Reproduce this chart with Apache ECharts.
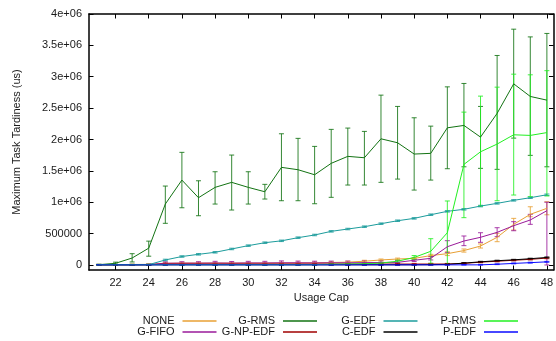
<!DOCTYPE html>
<html>
<head>
<meta charset="utf-8">
<script src="https://cdn.jsdelivr.net/npm/echarts@6/dist/echarts.min.js"></script>
<style>
  html, body { margin: 0; padding: 0; background: #fff; }
  #chart { width: 556px; height: 341px; }
</style>
</head>
<body>
<div id="chart"></div>
<script>
// Usage cap values on the x axis
const usageCap = [21, 22, 23, 24, 25, 26, 27, 28, 29, 30, 31, 32, 33, 34, 35, 36, 37, 38, 39, 40, 41, 42, 43, 44, 45, 46, 47, 48];
const xTicks = [22, 24, 26, 28, 30, 32, 34, 36, 38, 40, 42, 44, 46, 48];
const yTicks = [0, 500000, 1000000, 1500000, 2000000, 2500000, 3000000, 3500000, 4000000];

// Maximum task tardiness (us): mean, lower and upper error bound per scheduler
const noneMean = [5000, 5000, 8000, 10000, 25000, 30000, 30000, 30000, 30000, 30000, 30000, 32000, 32000, 35000, 40000, 45000, 60000, 80000, 95000, 105000, 150000, 180000, 230000, 302000, 441000, 648000, 807000, 903000];
const noneLo   = [0, 0, 0, 0, 12000, 18000, 18000, 18000, 18000, 18000, 18000, 20000, 20000, 22000, 26000, 30000, 45000, 65000, 80000, 90000, 130000, 150000, 205000, 270000, 371000, 557000, 769000, 800000];
const noneHi   = [10000, 10000, 15000, 20000, 38000, 42000, 42000, 42000, 42000, 42000, 42000, 45000, 45000, 48000, 54000, 60000, 75000, 95000, 110000, 120000, 170000, 210000, 255000, 335000, 505000, 743000, 928000, 1008000];

const gfifoMean = [5000, 5000, 5000, 8000, 28000, 30000, 30000, 32000, 30000, 33000, 32000, 35000, 35000, 33000, 35000, 35000, 38000, 40000, 42000, 75000, 106000, 291000, 382000, 441000, 520000, 626000, 717000, 865000];
const gfifoLo   = [0, 0, 0, 0, 8000, 8000, 8000, 8000, 8000, 8000, 8000, 8000, 8000, 8000, 8000, 8000, 10000, 12000, 15000, 55000, 80000, 196000, 308000, 361000, 451000, 546000, 648000, 0];
const gfifoHi   = [10000, 10000, 10000, 15000, 50000, 52000, 52000, 58000, 55000, 58000, 58000, 65000, 62000, 60000, 62000, 62000, 65000, 68000, 70000, 95000, 135000, 387000, 462000, 514000, 594000, 690000, 807000, 1000000];

const grmsMean = [5000, 27000, 111000, 268000, 971000, 1353000, 1072000, 1237000, 1317000, 1237000, 1167000, 1556000, 1518000, 1438000, 1620000, 1731000, 1709000, 2011000, 1948000, 1768000, 1779000, 2186000, 2224000, 2038000, 2416000, 2887000, 2686000, 2627000];
const grmsLo   = [0, 10000, 48000, 140000, 664000, 912000, 785000, 971000, 876000, 971000, 1051000, 1024000, 1024000, 976000, 1078000, 1274000, 1274000, 1317000, 1369000, 1194000, 1353000, 1534000, 1565000, 1540000, 1524000, 2022000, 1747000, 1565000];
const grmsHi   = [10000, 45000, 180000, 380000, 1258000, 1795000, 1342000, 1486000, 1752000, 1486000, 1285000, 2091000, 2018000, 1890000, 2161000, 2182000, 2129000, 2707000, 2527000, 2346000, 2213000, 2839000, 2893000, 2527000, 3339000, 3758000, 3635000, 3690000];

const gnpedfMean = [3000, 3000, 3000, 3000, 15000, 15000, 15000, 15000, 15000, 15000, 15000, 15000, 15000, 15000, 15000, 15000, 15000, 15000, 15000, 15000, 15000, 15000, 25000, 45000, 60000, 75000, 90000, 110000];
const gnpedfLo   = [0, 0, 0, 0, 5000, 5000, 5000, 5000, 5000, 5000, 5000, 5000, 5000, 5000, 5000, 5000, 5000, 5000, 5000, 5000, 5000, 5000, 15000, 35000, 50000, 65000, 80000, 100000];
const gnpedfHi   = [6000, 6000, 6000, 6000, 25000, 25000, 25000, 25000, 25000, 25000, 25000, 25000, 25000, 25000, 25000, 25000, 25000, 25000, 25000, 25000, 25000, 25000, 35000, 55000, 70000, 85000, 100000, 120000];

const gedfMean = [3000, 3000, 3000, 5000, 80000, 135000, 170000, 202000, 255000, 308000, 355000, 385000, 435000, 478000, 536000, 573000, 610000, 658000, 705000, 743000, 801000, 855000, 887000, 939000, 982000, 1030000, 1072000, 1119000];
const gedfLo   = [0, 0, 0, 0, 68000, 123000, 158000, 190000, 243000, 296000, 343000, 373000, 423000, 466000, 524000, 561000, 598000, 646000, 693000, 731000, 789000, 843000, 875000, 927000, 970000, 1018000, 1060000, 1107000];
const gedfHi   = [8000, 8000, 8000, 12000, 92000, 147000, 182000, 214000, 267000, 320000, 367000, 397000, 447000, 490000, 548000, 585000, 622000, 670000, 717000, 755000, 813000, 867000, 899000, 951000, 994000, 1042000, 1084000, 1131000];

const cedfMean = [3000, 3000, 3000, 3000, 3000, 3000, 3000, 3000, 3000, 3000, 3000, 3000, 3000, 3000, 3000, 3000, 3000, 3000, 3000, 3000, 5000, 10000, 30000, 50000, 68000, 82000, 100000, 120000];
const cedfLo   = [0, 0, 0, 0, 0, 0, 0, 0, 0, 0, 0, 0, 0, 0, 0, 0, 0, 0, 0, 0, 0, 3000, 22000, 42000, 60000, 74000, 92000, 112000];
const cedfHi   = [6000, 6000, 6000, 6000, 6000, 6000, 6000, 6000, 6000, 6000, 6000, 6000, 6000, 6000, 6000, 6000, 6000, 6000, 6000, 6000, 10000, 17000, 38000, 58000, 76000, 90000, 108000, 128000];

const prmsMean = [5000, 5000, 5000, 5000, 5000, 5000, 5000, 5000, 5000, 5000, 5000, 5000, 5000, 5000, 12000, 15000, 20000, 30000, 60000, 120000, 218000, 514000, 1603000, 1804000, 1927000, 2075000, 2065000, 2110000];
const prmsLo   = [0, 0, 0, 0, 0, 0, 0, 0, 0, 0, 0, 0, 0, 0, 5000, 7000, 10000, 18000, 40000, 90000, 27000, 10000, 754000, 939000, 1024000, 1115000, 1088000, 1100000];
const prmsHi   = [10000, 10000, 10000, 10000, 10000, 10000, 10000, 10000, 10000, 10000, 10000, 10000, 10000, 10000, 20000, 24000, 30000, 42000, 80000, 150000, 419000, 1020000, 2436000, 2691000, 2834000, 3041000, 3031000, 3097000];

const pedfMean = [2000, 2000, 2000, 2000, 2000, 2000, 2000, 2000, 2000, 2000, 2000, 2000, 2000, 2000, 2000, 2000, 2000, 2000, 2000, 2000, 2000, 2000, 2000, 2000, 12000, 25000, 37000, 50000];
const pedfLo   = [0, 0, 0, 0, 0, 0, 0, 0, 0, 0, 0, 0, 0, 0, 0, 0, 0, 0, 0, 0, 0, 0, 0, 0, 6000, 18000, 30000, 43000];
const pedfHi   = [5000, 5000, 5000, 5000, 5000, 5000, 5000, 5000, 5000, 5000, 5000, 5000, 5000, 5000, 5000, 5000, 5000, 5000, 5000, 5000, 5000, 5000, 5000, 5000, 18000, 32000, 44000, 57000];

// Schedulers in drawing order; legend slot = [row, column]
const schedulers = [
  { name: 'NONE',     color: '#e8a035', mean: noneMean,   lo: noneLo,   hi: noneHi,   slot: [0, 0] },
  { name: 'G-FIFO',   color: '#9a1a9a', mean: gfifoMean,  lo: gfifoLo,  hi: gfifoHi,  slot: [1, 0] },
  { name: 'G-RMS',    color: '#137313', mean: grmsMean,   lo: grmsLo,   hi: grmsHi,   slot: [0, 1] },
  { name: 'G-NP-EDF', color: '#a00000', mean: gnpedfMean, lo: gnpedfLo, hi: gnpedfHi, slot: [1, 1] },
  { name: 'G-EDF',    color: '#1c9c9c', mean: gedfMean,   lo: gedfLo,   hi: gedfHi,   slot: [0, 2] },
  { name: 'C-EDF',    color: '#000000', mean: cedfMean,   lo: cedfLo,   hi: cedfHi,   slot: [1, 2] },
  { name: 'P-RMS',    color: '#22f022', mean: prmsMean,   lo: prmsLo,   hi: prmsHi,   slot: [0, 3] },
  { name: 'P-EDF',    color: '#0a0aff', mean: pedfMean,   lo: pedfLo,   hi: pedfHi,   slot: [1, 3] }
];

const FONT = 'Liberation Sans, Arial, sans-serif';
const TEXT = '#1a1a1a';

function errorBarRenderer(color) {
  return function (params, api) {
    const x = api.value(0);
    const pLo = api.coord([x, api.value(1)]);
    const pHi = api.coord([x, api.value(2)]);
    const w = 2.5;
    const style = { stroke: color, lineWidth: 1, opacity: 0.85 };
    return {
      type: 'group',
      children: [
        { type: 'line', shape: { x1: pLo[0], y1: pLo[1], x2: pHi[0], y2: pHi[1] }, style: style },
        { type: 'line', shape: { x1: pLo[0] - w, y1: pLo[1], x2: pLo[0] + w, y2: pLo[1] }, style: style },
        { type: 'line', shape: { x1: pHi[0] - w, y1: pHi[1], x2: pHi[0] + w, y2: pHi[1] }, style: style }
      ]
    };
  };
}

const series = [];
schedulers.forEach(function (s) {
  series.push({
    name: s.name,
    type: 'line',
    data: usageCap.map(function (x, i) { return [x, s.mean[i]]; }),
    showSymbol: false,
    symbol: 'none',
    color: s.color,
    lineStyle: { color: s.color, width: 1 },
    clip: true,
    silent: true
  });
  series.push({
    name: s.name,
    type: 'custom',
    data: usageCap.map(function (x, i) { return [x, s.lo[i], s.hi[i]]; }),
    encode: { x: 0, y: [1, 2] },
    renderItem: errorBarRenderer(s.color),
    clip: true,
    silent: true
  });
});

// Gnuplot-style key below the plot: text right-aligned before each sample line
const sampleRight = [216.5, 317, 417.5, 518];
const rowCenter = [322, 333];
const legends = schedulers.map(function (s) {
  return {
    data: [s.name],
    orient: 'horizontal',
    align: 'right',
    right: 556 - sampleRight[s.slot[1]],
    top: rowCenter[s.slot[0]] - 6.5,
    padding: 0,
    itemWidth: 34,
    itemHeight: 1.5,
    icon: 'rect',
    selectedMode: false,
    textStyle: { fontFamily: FONT, fontSize: 11, color: TEXT, padding: [0, 3, 0, 0] }
  };
});

function yFormat(v) {
  if (v === 0) return '0';
  if (v < 1000000) return String(v);
  return (v / 1000000) + 'e+06';
}

const tickStyle = { inside: true, length: 4.5, lineStyle: { color: '#000', width: 1 } };

const option = {
  animation: false,
  backgroundColor: '#ffffff',
  grid: { left: 89, right: -1, top: 14, bottom: 71, containLabel: false },
  legend: legends,
  xAxis: [
    {
      type: 'value', position: 'bottom', min: 20.4, max: 48.4,
      name: 'Usage Cap', nameLocation: 'middle', nameGap: 22,
      nameTextStyle: { fontFamily: FONT, fontSize: 11, color: TEXT },
      axisLine: { show: true, onZero: false, lineStyle: { color: '#000', width: 1.5 } },
      axisTick: Object.assign({ customValues: xTicks }, tickStyle),
      axisLabel: { customValues: xTicks, margin: 7, fontFamily: FONT, fontSize: 11, color: TEXT },
      splitLine: { show: false }
    },
    {
      type: 'value', position: 'top', min: 20.4, max: 48.4,
      axisLine: { show: true, onZero: false, lineStyle: { color: '#000', width: 1.5 } },
      axisTick: Object.assign({ customValues: xTicks }, tickStyle),
      axisLabel: { show: false },
      splitLine: { show: false }
    }
  ],
  yAxis: [
    {
      type: 'value', position: 'left', min: -80000, max: 4000000,
      name: 'Maximum Task Tardiness (us)', nameLocation: 'middle', nameGap: 67,
      nameTextStyle: { fontFamily: FONT, fontSize: 11, color: TEXT },
      axisLine: { show: true, onZero: false, lineStyle: { color: '#000', width: 1.5 } },
      axisTick: Object.assign({ customValues: yTicks }, tickStyle),
      axisLabel: { customValues: yTicks, formatter: yFormat, margin: 7, fontFamily: FONT, fontSize: 11, color: TEXT },
      splitLine: { show: false }
    },
    {
      type: 'value', position: 'right', min: -80000, max: 4000000,
      axisLine: { show: true, onZero: false, lineStyle: { color: '#000', width: 1.5 } },
      axisTick: Object.assign({ customValues: yTicks }, tickStyle),
      axisLabel: { show: false },
      splitLine: { show: false }
    }
  ],
  series: series
};

const chart = echarts.init(document.getElementById('chart'), null, { renderer: 'canvas' });
chart.setOption(option);
</script>
</body>
</html>
